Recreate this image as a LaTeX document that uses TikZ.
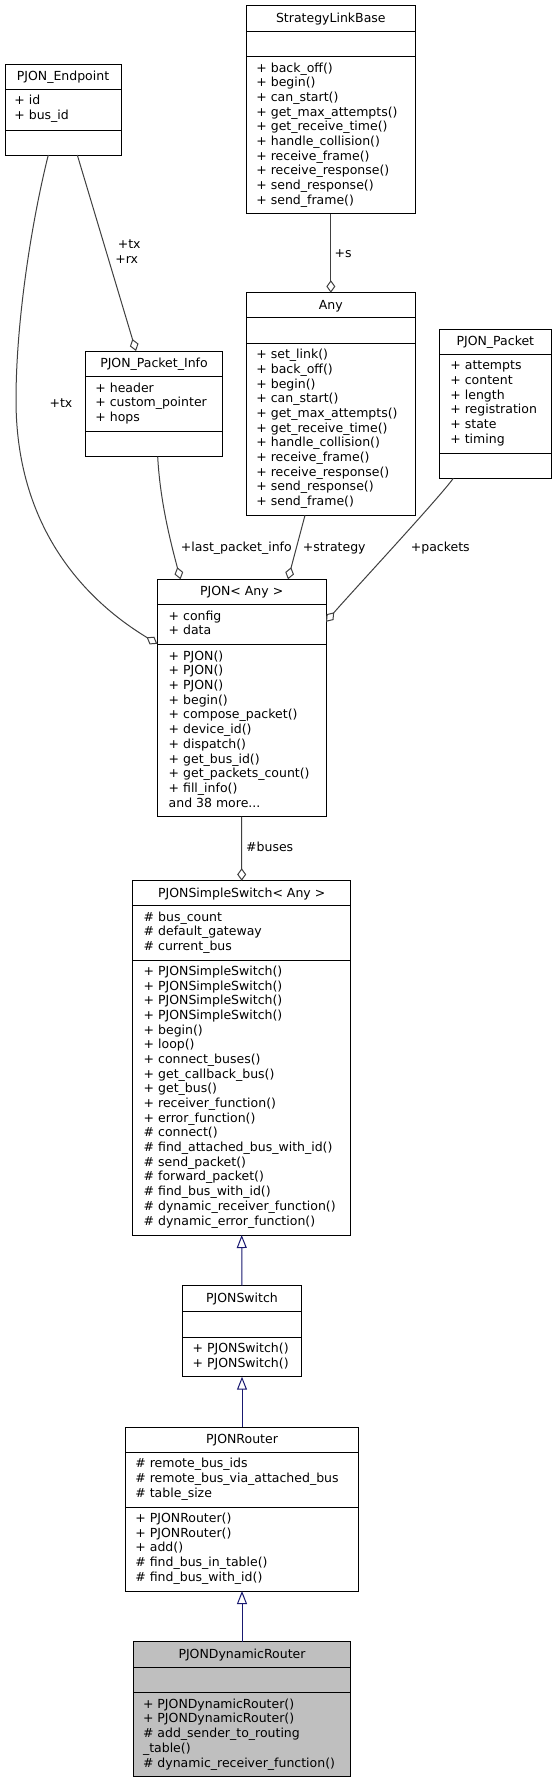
\documentclass[tikz,border=0pt]{standalone}
\usepackage{fontspec}
\setmainfont{DejaVu Sans}
\usetikzlibrary{arrows.meta,fit}
\definecolor{edgegray}{HTML}{404040}
\definecolor{inhblue}{HTML}{191970}
\definecolor{focusgray}{HTML}{BFBFBF}
\newcommand\dfont{\fontsize{12.5}{14.67}\selectfont}
\newcommand\moredots{...}
\tikzset{
  umlbox/.style={draw=black, line width=1pt, inner sep=0pt, outer sep=0pt},
  sepline/.style={draw=black, line width=1pt},
  titletext/.style={anchor=base, inner sep=0pt, font=\dfont},
  membertext/.style={anchor=base west, inner sep=0pt, font=\dfont},
  edgelabel/.style={anchor=base, inner sep=0pt, font=\dfont},
  aggr/.style={draw=edgegray, line width=1pt, {Diamond[fill=white, length=12.5pt, width=9pt]}-},
  inherit/.style={draw=inhblue, line width=1pt, {Triangle[fill=white, length=13pt, width=10pt]}-},
}
% #1 name, #2 left, #3 top, #4 right, #5 sep1, #6 sep2, #7 bottom, #8 fill, #9 title
\newcommand\umlframe[9]{%
  \node[umlbox, fill=#8, fit={(#2,#3)(#4,#7)}] (#1) {};
  \draw[sepline] (#2,#5) -- (#4,#5);
  \draw[sepline] (#2,#6) -- (#4,#6);
  \node[titletext] (#1-title) at ({(#2+#4)/2},{#3+16.5}) {#9};
}
% #1 name prefix, #2 x, #3 separator y, #4 list
\newcommand\umlmembers[4]{%
  \foreach \mtext [count=\mi] in {#4} {
    \node[membertext] (#1-\mi) at (#2,{#3+15.6+(\mi-1)*14.67}) {\mtext};
  }
}
\begin{document}
\begin{tikzpicture}[x=1pt,y=-1pt]
\fill[white] (0,0) rectangle (556,1783);
\useasboundingbox (0,0) rectangle (556,1783);

% ---------- classes ----------
\umlframe{ep}{5}{64.3}{121}{89.3}{130}{155}{white}{PJON\_Endpoint}
\umlmembers{ep-a}{14.2}{89.3}{+ id, + bus\_id}

\umlframe{slb}{246}{5.7}{415.7}{31.7}{56.7}{213.7}{white}{StrategyLinkBase}
\umlmembers{slb-m}{256.2}{56.7}{+ back\_off(), + begin(), + can\_start(), + get\_max\_attempts(), + get\_receive\_time(), + handle\_collision(), + receive\_frame(), + receive\_response(), + send\_response(), + send\_frame()}

\umlframe{any}{246}{292.7}{415.7}{317.7}{343.3}{515.3}{white}{Any}
\umlmembers{any-m}{256.2}{343.3}{+ set\_link(), + back\_off(), + begin(), + can\_start(), + get\_max\_attempts(), + get\_receive\_time(), + handle\_collision(), + receive\_frame(), + receive\_response(), + send\_response(), + send\_frame()}

\umlframe{pinfo}{85.3}{351}{222.7}{376.7}{431}{456.7}{white}{PJON\_Packet\_Info}
\umlmembers{pinfo-a}{95.2}{376.7}{+ header, + custom\_pointer, + hops}

\umlframe{pkt}{439.7}{329.3}{551}{354.3}{453.3}{478.3}{white}{PJON\_Packet}
\umlmembers{pkt-a}{450.2}{354.3}{+ attempts, + content, + length, + registration, + state, + timing}

\umlframe{pjon}{157.3}{579.3}{326}{604.5}{644.7}{816.7}{white}{PJON< Any >}
\umlmembers{pjon-a}{168.5}{604.5}{+ config, + data}
\umlmembers{pjon-m}{168.5}{644.7}{+ PJON(), + PJON(), + PJON(), + begin(), + compose\_packet(), + device\_id(), + dispatch(), + get\_bus\_id(), + get\_packets\_count(), + fill\_info(), and 38 more\moredots}

\umlframe{pss}{132.7}{880.7}{350.7}{905.7}{960}{1235}{white}{PJONSimpleSwitch< Any >}
\umlmembers{pss-a}{143.5}{905.7}{\# bus\_count, \# default\_gateway, \# current\_bus}
\umlmembers{pss-m}{143.5}{960}{+ PJONSimpleSwitch(), + PJONSimpleSwitch(), + PJONSimpleSwitch(), + PJONSimpleSwitch(), + begin(), + loop(), + connect\_buses(), + get\_callback\_bus(), + get\_bus(), + receiver\_function(), + error\_function(), \# connect(), \# find\_attached\_bus\_with\_id(), \# send\_packet(), \# forward\_packet(), \# find\_bus\_with\_id(), \# dynamic\_receiver\_function(), \# dynamic\_error\_function()}

\umlframe{psw}{182.7}{1285.7}{301.3}{1311.3}{1337}{1376.7}{white}{PJONSwitch}
\umlmembers{psw-m}{192.5}{1337}{+ PJONSwitch(), + PJONSwitch()}

\umlframe{rtr}{125.3}{1427}{358.7}{1452.3}{1507}{1591}{white}{PJONRouter}
\umlmembers{rtr-a}{135.2}{1452.3}{\# remote\_bus\_ids, \# remote\_bus\_via\_attached\_bus, \# table\_size}
\umlmembers{rtr-m}{135.2}{1507}{+ PJONRouter(), + PJONRouter(), + add(), \# find\_bus\_in\_table(), \# find\_bus\_with\_id()}

\umlframe{dyn}{133.3}{1641.7}{350.7}{1667}{1692.7}{1776.7}{focusgray}{PJONDynamicRouter}
\umlmembers{dyn-m}{142.8}{1692.7}{+ PJONDynamicRouter(), + PJONDynamicRouter(), \# add\_sender\_to\_routing, \_table(), \# dynamic\_receiver\_function()}

% ---------- aggregations ----------
\draw[aggr] ([xshift=50.7pt]pinfo.north west) -- ([xshift=72.3pt]ep.south west);
\draw[aggr] ([yshift=-64.5pt]pjon.north west) .. controls (105,612) and (16,545) .. (16,400)
            .. controls (16,320) and (32,220) .. ([xshift=43.3pt]ep.south west);
\draw[aggr] (any.north) -- (slb.south);
\draw[aggr] ([xshift=23.2pt]pjon.north west) .. controls (170,540) and (160,500) .. ([xshift=72.4pt]pinfo.south west);
\draw[aggr] ([xshift=130.7pt]pjon.north west) -- ([xshift=59pt]any.south west);
\draw[aggr] ([yshift=-42.5pt]pjon.north east) .. controls (350,594) and (440,497) .. ([xshift=13.6pt]pkt.south west);
\draw[aggr] (pss.north) -- (pjon.south);

% ---------- inheritance ----------
\draw[inherit] (pss.south) -- (psw.north);
\draw[inherit] (psw.south) -- (rtr.north);
\draw[inherit] (rtr.south) -- (dyn.north);

% ---------- labels ----------
\node[edgelabel] (l-tx) at (129.2,248.3) {+tx};
\node[edgelabel] (l-rx) at (126.7,263.3) {+rx};
\node[edgelabel] (l-tx2) at (61,407) {+tx};
\node[edgelabel, anchor=base west] (l-s) at (334.5,257) {+s};
\node[edgelabel] (l-lpi) at (236.3,551) {+last\_packet\_info};
\node[edgelabel] (l-str) at (334.3,551) {+strategy};
\node[edgelabel] (l-pk) at (440.3,551) {+packets};
\node[edgelabel, anchor=base west] (l-bus) at (246,851.6) {\#buses};
\end{tikzpicture}
\end{document}
